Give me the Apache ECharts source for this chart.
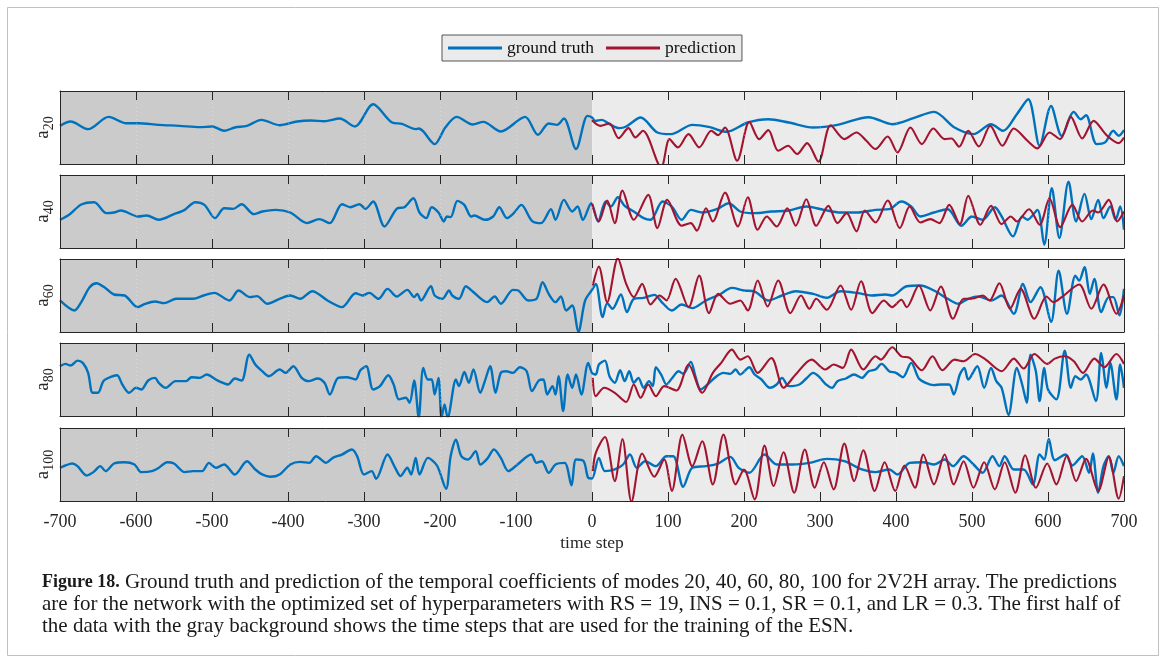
<!DOCTYPE html>
<html><head><meta charset="utf-8">
<script src="https://cdn.jsdelivr.net/npm/echarts@6/dist/echarts.min.js"></script>
<style>html,body{margin:0;padding:0;background:#fff}#c{width:1165px;height:664px}</style>
</head><body><div id="c"></div>
<script>
// ---------------- data (time step, coefficient) ----------------
const modes = ['20', '40', '60', '80', '100'];
const seriesNames = ['ground truth', 'prediction'];

const truth20 = [[-700,0.05],[-686,0.18],[-663,-0.05],[-636,0.32],[-613,0.13],[-597,0.13],[-570,0.08],[-543,0.05],[-516,0.01],[-500,0.03],[-484,-0.10],[-470,0.0],[-454,0.05],[-435,0.23],[-411,0.07],[-388,0.18],[-370,0.21],[-352,0.19],[-332,0.27],[-312,0.03],[-288,0.70],[-263,0.15],[-250,0.11],[-232,-0.05],[-228,-0.03],[-222,-0.12],[-207,-0.50],[-193,0.0],[-178,0.32],[-157,0.09],[-143,0.17],[-120,-0.12],[-88,0.32],[-71,-0.22],[-57,0.12],[-46,0.08],[-37,0.27],[-21,-0.65],[-6,0.35],[0,0.30],[4,0.20],[13,0.23],[23,0.10],[36,-0.02],[45,0.03],[64,0.30],[86,-0.15],[104,-0.20],[132,0.08],[155,0.01],[177,-0.13],[205,0.15],[232,0.25],[259,0.15],[291,0.0],[323,0.08],[364,0.31],[395,0.10],[423,0.28],[450,0.47],[477,0.0],[502,-0.20],[525,0.10],[541,-0.10],[559,0.40],[574,0.85],[589,-0.55],[604,0.65],[618,-0.25],[634,0.47],[643,0.25],[650,0.37],[664,-0.50],[675,-0.45],[686,-0.10],[693,-0.25],[700,-0.08]];
const pred20 = [[0,0.22],[11,0.05],[23,0.12],[35,-0.32],[48,-0.02],[57,-0.30],[67,-0.10],[91,-1.2],[102,-0.35],[113,-0.60],[127,-0.20],[141,-0.60],[157,-0.10],[166,-0.23],[175,0.0],[191,-1.0],[207,0.17],[220,-0.35],[232,-0.08],[245,-0.70],[258,-0.55],[270,-0.80],[283,-0.47],[298,-1.03],[314,0.07],[332,-0.35],[348,-0.15],[361,-0.40],[373,-0.65],[389,-0.27],[402,-0.75],[419,0.0],[434,-0.50],[449,-0.03],[464,-0.35],[473,-0.33],[483,-0.58],[495,-0.10],[509,-0.57],[524,0.05],[540,-0.55],[555,-0.03],[573,-0.40],[586,-0.63],[602,-0.15],[616,-0.35],[630,0.32],[645,-0.33],[660,0.20],[677,-0.23],[693,-0.47],[700,-0.30]];

const truth40 = [[-700,-0.25],[-688,-0.10],[-672,0.21],[-655,0.28],[-639,-0.05],[-629,-0.03],[-620,0.03],[-597,-0.15],[-586,-0.12],[-570,-0.25],[-550,-0.08],[-536,0.05],[-522,0.28],[-510,0.20],[-496,-0.20],[-484,0.10],[-472,0.08],[-461,0.22],[-445,-0.08],[-434,0.0],[-416,0.05],[-397,-0.03],[-375,-0.35],[-359,-0.23],[-345,-0.35],[-329,0.22],[-318,0.13],[-306,0.22],[-298,0.08],[-288,0.30],[-273,-0.45],[-256,0.10],[-247,0.13],[-235,0.40],[-227,-0.03],[-218,-0.20],[-211,0.13],[-202,-0.03],[-195,-0.30],[-191,-0.15],[-186,-0.17],[-177,0.32],[-168,0.20],[-159,-0.15],[-155,-0.12],[-141,-0.25],[-130,-0.15],[-122,0.13],[-112,-0.20],[-103,-0.05],[-93,0.20],[-79,-0.28],[-67,-0.35],[-54,0.07],[-48,-0.25],[-37,0.35],[-26,0.0],[-19,0.15],[-12,-0.25],[-1,0.25],[8,-0.30],[18,0.30],[25,0.15],[34,0.43],[43,0.17],[55,0.0],[68,-0.20],[77,-0.25],[93,0.30],[105,0.15],[118,-0.25],[130,0.05],[145,-0.03],[164,0.07],[180,0.25],[195,0.0],[214,-0.05],[236,0.0],[259,0.03],[282,0.15],[305,0.05],[327,-0.03],[350,-0.03],[373,0.05],[391,0.07],[407,0.30],[420,0.15],[432,-0.15],[450,-0.03],[468,0.07],[486,-0.43],[500,-0.15],[514,-0.25],[530,0.13],[539,-0.15],[554,-0.75],[566,-0.15],[573,-0.25],[586,0.05],[595,-1.0],[605,0.70],[615,-0.80],[627,0.90],[637,-0.30],[648,0.53],[657,-0.23],[666,0.35],[673,-0.20],[682,0.15],[689,-0.25],[695,0.15],[700,-0.55]];
const pred40 = [[0,0.25],[9,-0.30],[20,0.33],[30,-0.35],[40,0.63],[55,-0.25],[74,0.50],[86,-0.50],[99,0.35],[118,-0.43],[130,-0.35],[138,-0.58],[150,0.10],[159,-0.30],[175,0.57],[192,-0.45],[205,0.43],[218,-0.55],[230,-0.15],[243,-0.45],[257,0.10],[268,-0.43],[282,0.37],[295,-0.43],[311,0.17],[323,-0.35],[335,-0.05],[348,-0.60],[359,0.03],[373,-0.33],[389,0.33],[405,-0.50],[418,0.15],[432,-0.33],[445,-0.23],[457,-0.35],[470,0.20],[484,-0.38],[495,0.47],[511,-0.40],[525,0.17],[539,-0.38],[551,-0.15],[559,-0.30],[575,0.07],[589,-0.40],[602,0.40],[616,-0.47],[632,0.20],[645,-0.30],[659,0.03],[666,-0.03],[680,0.35],[691,-0.30],[700,0.0]];

const truth60 = [[-700,-0.15],[-681,-0.45],[-672,-0.20],[-661,0.25],[-652,0.37],[-640,0.22],[-629,0.03],[-615,0.0],[-598,-0.35],[-588,-0.25],[-575,-0.18],[-563,-0.23],[-547,-0.10],[-525,-0.10],[-511,0.0],[-497,0.08],[-477,-0.15],[-465,0.15],[-450,-0.05],[-441,-0.02],[-427,-0.25],[-411,-0.10],[-397,0.0],[-384,-0.10],[-368,0.13],[-348,-0.15],[-329,-0.35],[-311,0.07],[-302,0.0],[-293,0.08],[-281,-0.10],[-269,0.20],[-257,-0.03],[-243,0.17],[-234,-0.05],[-230,0.05],[-225,-0.15],[-212,0.28],[-207,0.0],[-197,-0.10],[-188,0.15],[-184,0.0],[-175,-0.10],[-166,0.28],[-157,0.12],[-138,-0.20],[-128,-0.03],[-120,-0.25],[-104,0.17],[-97,0.15],[-84,-0.15],[-73,-0.10],[-65,0.40],[-57,0.05],[-48,-0.20],[-41,-0.03],[-34,-0.45],[-26,-0.30],[-18,-1.10],[-9,-0.15],[0,0.17],[5,0.35],[14,-0.65],[20,-0.23],[27,-0.40],[38,0.03],[46,-0.50],[55,-0.10],[68,-0.07],[82,0.02],[93,-0.23],[105,-0.45],[118,-0.27],[132,-0.38],[150,-0.15],[168,0.03],[184,0.23],[200,0.15],[214,0.12],[232,-0.15],[250,0.0],[268,0.13],[291,0.05],[309,-0.07],[327,0.13],[350,0.07],[368,0.0],[386,0.03],[395,0.0],[414,0.28],[432,0.30],[450,0.15],[468,-0.10],[482,-0.25],[495,-0.10],[509,-0.03],[525,-0.15],[539,0.0],[555,-0.55],[567,0.35],[577,-0.20],[590,0.25],[604,-0.80],[614,0.75],[625,-0.55],[636,0.60],[641,0.45],[648,0.85],[655,0.05],[661,0.50],[670,-0.50],[680,-0.05],[686,-0.05],[694,-0.60],[700,0.20]];
const pred60 = [[1,0.30],[9,0.87],[20,-0.20],[34,1.12],[45,0.35],[55,-0.05],[66,0.35],[77,-0.27],[89,0.0],[98,-0.15],[110,0.50],[127,-0.35],[141,0.60],[154,-0.53],[166,0.05],[182,-0.25],[195,-0.15],[205,-0.45],[218,0.45],[231,-0.33],[245,0.45],[261,-0.53],[275,0.0],[286,-0.40],[295,-0.10],[309,-0.43],[327,0.30],[341,-0.43],[354,0.43],[369,-0.53],[384,-0.15],[395,-0.35],[407,-0.13],[414,-0.35],[430,0.30],[445,-0.45],[459,0.27],[475,-0.70],[489,-0.10],[500,-0.10],[514,0.0],[523,-0.15],[536,0.37],[550,-0.40],[564,0.20],[582,-0.70],[598,-0.03],[607,-0.20],[618,-0.05],[641,0.33],[657,-0.40],[673,0.33],[690,-0.55],[700,0.0]];

const truth80 = [[-700,0.40],[-693,0.47],[-686,0.42],[-677,0.57],[-670,0.50],[-663,0.20],[-657,-0.40],[-650,-0.40],[-643,-0.05],[-634,0.07],[-625,0.13],[-618,-0.15],[-609,-0.40],[-600,-0.25],[-593,-0.30],[-584,-0.03],[-575,0.05],[-570,-0.10],[-561,-0.25],[-548,-0.05],[-534,-0.05],[-527,0.07],[-516,0.05],[-507,0.15],[-495,0.0],[-488,-0.08],[-479,-0.15],[-470,0.03],[-461,-0.03],[-451,0.75],[-443,0.45],[-434,0.25],[-425,0.10],[-411,0.30],[-403,0.20],[-393,0.40],[-382,0.05],[-373,-0.05],[-361,0.03],[-352,-0.10],[-345,-0.45],[-334,0.05],[-323,0.07],[-311,0.0],[-305,0.27],[-297,0.40],[-288,-0.30],[-279,-0.20],[-268,0.13],[-261,-0.15],[-254,-0.60],[-245,-0.55],[-240,-0.70],[-234,-0.03],[-228,-1.15],[-222,0.35],[-216,0.0],[-211,0.0],[-207,-0.45],[-202,0.05],[-198,-1.15],[-194,-0.75],[-190,-1.15],[-179,0.0],[-175,-0.20],[-168,0.23],[-162,-0.10],[-156,0.30],[-147,-0.40],[-141,-0.05],[-134,0.40],[-127,-0.40],[-120,0.20],[-113,0.25],[-104,0.20],[-95,0.37],[-86,0.25],[-79,-0.35],[-70,-0.03],[-64,0.0],[-59,-0.45],[-52,-0.20],[-48,-0.45],[-44,0.10],[-38,-0.95],[-32,0.15],[-26,-0.25],[-21,0.15],[-14,-0.45],[-5,0.50],[0,0.20],[5,0.15],[9,0.45],[17,0.57],[23,0.10],[30,-0.10],[37,0.28],[43,-0.05],[49,0.25],[55,-0.10],[61,0.05],[68,-0.25],[75,-0.05],[80,-0.20],[84,0.37],[91,0.15],[98,-0.15],[105,0.03],[114,0.25],[120,0.17],[130,0.53],[136,0.10],[143,-0.30],[152,-0.15],[164,0.10],[173,0.20],[182,0.17],[189,0.30],[195,0.15],[207,0.37],[214,0.15],[223,0.0],[234,-0.25],[243,-0.15],[250,0.05],[259,-0.20],[273,-0.15],[282,0.03],[291,0.20],[298,0.10],[307,-0.13],[316,-0.25],[323,-0.05],[334,0.03],[345,0.15],[355,0.05],[364,0.25],[373,0.30],[381,0.47],[391,0.25],[400,0.20],[409,0.07],[420,0.50],[430,0.03],[439,-0.10],[450,-0.17],[459,-0.15],[470,-0.15],[476,-0.45],[484,0.15],[490,0.35],[495,0.0],[507,0.40],[516,-0.25],[525,0.35],[532,-0.05],[539,-0.25],[548,-1.07],[559,0.35],[566,-0.15],[572,-0.70],[577,0.75],[584,0.25],[589,-0.65],[595,0.35],[600,-0.30],[611,-0.60],[622,0.87],[630,-0.25],[636,0.10],[643,0.0],[650,0.15],[663,-0.65],[670,0.80],[677,-0.25],[682,0.50],[690,-0.60],[695,0.45],[700,-0.25]];
const pred80 = [[1,0.05],[5,-0.50],[16,-0.25],[30,-0.40],[45,-0.68],[55,-0.15],[64,-0.55],[74,-0.15],[84,-0.50],[95,-0.20],[111,-0.33],[127,0.45],[145,-0.40],[159,0.20],[170,0.50],[184,0.90],[195,0.60],[205,0.70],[218,0.20],[236,0.65],[252,-0.25],[268,0.15],[289,0.60],[307,0.30],[318,0.45],[330,0.35],[341,0.90],[357,0.30],[373,0.70],[380,0.60],[395,0.97],[407,0.70],[418,0.65],[434,0.28],[448,0.70],[461,0.28],[477,0.60],[489,0.55],[504,0.77],[518,0.60],[539,0.25],[555,0.63],[568,0.33],[582,0.77],[599,0.47],[609,0.63],[622,0.70],[634,0.55],[646,0.20],[661,0.63],[674,0.37],[690,0.77],[700,0.47]];

const truth100 = [[-700,-0.10],[-693,-0.03],[-684,0.03],[-677,-0.05],[-665,-0.33],[-656,-0.23],[-647,-0.05],[-640,-0.20],[-629,0.03],[-615,0.07],[-602,0.0],[-593,-0.23],[-579,-0.20],[-570,-0.10],[-559,0.07],[-550,0.03],[-536,-0.23],[-525,-0.20],[-513,-0.20],[-504,0.05],[-495,-0.10],[-484,0.0],[-470,-0.30],[-454,0.10],[-443,-0.15],[-434,-0.30],[-423,-0.37],[-411,-0.30],[-397,0.0],[-384,0.08],[-372,0.05],[-363,0.25],[-350,0.05],[-341,0.20],[-329,0.30],[-316,0.45],[-309,0.25],[-300,-0.30],[-290,-0.20],[-284,-0.43],[-269,0.30],[-259,-0.10],[-252,-0.35],[-243,-0.10],[-238,-0.30],[-232,0.20],[-227,-0.30],[-216,0.20],[-204,-0.03],[-192,-0.73],[-186,0.25],[-179,0.75],[-172,0.25],[-163,0.15],[-153,0.40],[-147,0.0],[-138,0.17],[-129,0.45],[-120,0.20],[-110,-0.20],[-98,0.0],[-80,0.30],[-73,0.05],[-66,0.10],[-57,-0.25],[-48,0.0],[-36,0.05],[-27,-0.63],[-21,0.15],[-11,0.10],[-5,-0.40],[0,-0.42],[9,0.20],[17,-0.20],[30,-0.15],[41,0.0],[50,0.30],[59,-0.10],[70,0.10],[84,-0.05],[98,0.25],[107,0.25],[120,-0.67],[132,-0.10],[150,-0.05],[166,0.03],[182,0.23],[193,-0.10],[207,-0.25],[227,0.30],[243,0.0],[264,0.0],[286,0.05],[309,0.17],[332,0.10],[355,-0.15],[373,-0.23],[391,-0.15],[402,-0.30],[418,0.05],[436,0.07],[450,0.0],[464,0.15],[475,-0.05],[489,0.25],[502,0.0],[514,-0.25],[527,0.25],[536,-0.05],[543,0.25],[555,-0.15],[568,-0.15],[580,-0.60],[589,0.30],[595,0.15],[601,0.77],[609,0.13],[623,0.30],[632,-0.03],[645,0.25],[654,-0.25],[659,0.33],[666,-0.85],[673,-0.05],[680,0.25],[686,-0.25],[693,0.25],[700,-0.05]];
const pred100 = [[1,-0.20],[5,0.35],[17,0.83],[30,-0.50],[40,0.77],[52,-1.12],[66,0.33],[82,-0.37],[95,0.15],[105,-0.80],[119,0.90],[132,-0.05],[145,0.70],[159,-0.60],[173,0.90],[189,-0.60],[200,-0.15],[214,-1.05],[227,0.57],[239,-0.65],[252,0.37],[266,-0.85],[280,0.45],[293,-0.70],[305,0.07],[318,-0.75],[332,0.63],[345,-0.50],[357,0.43],[372,-0.80],[385,0.07],[399,-0.80],[411,-0.03],[425,-0.70],[436,0.30],[450,-0.60],[464,0.30],[476,-0.60],[489,0.10],[502,-0.70],[516,0.07],[530,-0.75],[543,0.07],[557,-0.85],[570,0.28],[584,-0.70],[599,0.03],[611,-0.60],[625,0.27],[637,-0.50],[650,0.17],[666,-0.80],[680,0.23],[693,-1.03],[700,-0.35]];

const truthData = [truth20, truth40, truth60, truth80, truth100];
const predData = [pred20, pred40, pred60, pred80, pred100];
const trainingSpan = [-700, 0];
const captionLines = [
  'Ground truth and prediction of the temporal coefficients of modes 20, 40, 60, 80, 100 for 2V2H array. The predictions',
  'are for the network with the optimized set of hyperparameters with RS = 19, INS = 0.1, SR = 0.1, and LR = 0.3. The first half of',
  'the data with the gray background shows the time steps that are used for the training of the ESN.'
];

// ---------------- layout / style ----------------
const FONT = "'Liberation Serif','Times New Roman',serif";
const BLUE = '#0072bd', RED = '#a2142f';
const panelTops = [91, 175, 259, 343, 428];
const panelH = 73;

const grids = [], xAxes = [], yAxes = [], series = [];
modes.forEach((m, i) => {
  grids.push({left: 60, right: 41, top: panelTops[i], height: panelH, show: true,
    backgroundColor: '#ebebeb', borderWidth: 0});
  const frame = {show: true, onZero: false, lineStyle: {color: '#262626', width: 1}};
  xAxes.push({type: 'value', gridIndex: i, min: -700, max: 700, interval: 100, position: 'bottom', z: 10,
    axisLine: frame,
    axisTick: {show: true, inside: true, length: 9, lineStyle: {color: '#262626'}},
    axisLabel: {show: i === 4, color: '#262626', fontFamily: FONT, fontSize: 18, margin: 12,
      showMinLabel: true, showMaxLabel: true},
    splitLine: {show: true, lineStyle: {color: 'rgba(255,255,255,0.3)', type: [1, 3], width: 1}},
    name: i === 4 ? 'time step' : '', nameLocation: 'middle', nameGap: 33,
    nameTextStyle: {fontFamily: FONT, fontSize: 17.5, color: '#262626'}});
  xAxes.push({type: 'value', gridIndex: i, min: -700, max: 700, interval: 100, position: 'top', z: 10,
    axisLine: frame,
    axisTick: {show: true, inside: true, length: 9, lineStyle: {color: '#262626'}},
    axisLabel: {show: false}, splitLine: {show: false}});
  yAxes.push({type: 'value', gridIndex: i, min: -1.1, max: 1.1, position: 'left', z: 10,
    axisLine: frame, axisTick: {show: false}, axisLabel: {show: false}, splitLine: {show: false},
    name: '{a|a}{s|' + m + '}', nameLocation: 'middle', nameRotate: 90, nameGap: -4,
    nameTextStyle: {color: '#262626', rich: {
      a: {fontFamily: FONT, fontSize: 19, lineHeight: 18, verticalAlign: 'top', color: '#262626'},
      s: {fontFamily: FONT, fontSize: 14, lineHeight: 30, verticalAlign: 'middle', color: '#262626'}
    }}});
  yAxes.push({type: 'value', gridIndex: i, min: -1.1, max: 1.1, position: 'right', z: 10,
    axisLine: frame, axisTick: {show: false}, axisLabel: {show: false}, splitLine: {show: false}});

  series.push({type: 'line', name: 'bg' + i, xAxisIndex: 2 * i, yAxisIndex: 2 * i, z: 1,
    data: [[trainingSpan[0], 0]], symbol: 'none', lineStyle: {opacity: 0}, silent: true,
    markArea: {silent: true, itemStyle: {color: '#cbcbcb'},
      data: [[{xAxis: trainingSpan[0]}, {xAxis: trainingSpan[1]}]]}});
  series.push({type: 'line', name: seriesNames[0], xAxisIndex: 2 * i, yAxisIndex: 2 * i, z: 3,
    data: truthData[i], symbol: 'none', smooth: 0.3, clip: true,
    lineStyle: {color: BLUE, width: 2.4}, itemStyle: {color: BLUE}});
  series.push({type: 'line', name: seriesNames[1], xAxisIndex: 2 * i, yAxisIndex: 2 * i, z: 4,
    data: predData[i], symbol: 'none', smooth: 0.3, clip: true,
    lineStyle: {color: RED, width: 2.1}, itemStyle: {color: RED}});
});

const chart = echarts.init(document.getElementById('c'), null, {renderer: 'canvas'});
chart.setOption({
  animation: false,
  backgroundColor: '#ffffff',
  legend: {data: seriesNames, left: 442, top: 35, icon: 'rect', itemWidth: 54, itemHeight: 3,
    itemGap: 12, padding: [4, 6, 4, 6], backgroundColor: '#ebebeb', borderColor: '#555555', borderWidth: 1,
    borderRadius: 0, textStyle: {fontFamily: FONT, fontSize: 17.5, color: '#111111'}},
  grid: grids, xAxis: xAxes, yAxis: yAxes, series: series,
  graphic: [
    {type: 'rect', shape: {x: 7.5, y: 7.5, width: 1151, height: 648}, style: {fill: 'none', stroke: '#c0c0c0', lineWidth: 1}, silent: true},
    {type: 'text', x: 42, y: 582, style: {text: '{b|Figure 18.} ' + captionLines[0],
      fontFamily: FONT, fontSize: 21, fill: '#1a1a1a', verticalAlign: 'middle',
      rich: {b: {fontFamily: FONT, fontSize: 18, fontWeight: 'bold', fill: '#1a1a1a'}}}},
    {type: 'text', x: 42, y: 604, style: {text: captionLines[1],
      fontFamily: FONT, fontSize: 21, fill: '#1a1a1a', verticalAlign: 'middle'}},
    {type: 'text', x: 42, y: 626, style: {text: captionLines[2],
      fontFamily: FONT, fontSize: 21, fill: '#1a1a1a', verticalAlign: 'middle'}}
  ]
});
</script></body></html>
